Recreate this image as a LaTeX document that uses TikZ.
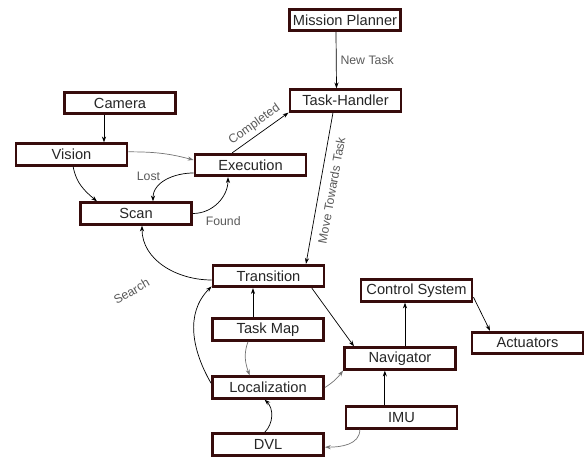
\documentclass[tikz,border=0pt]{standalone}
\usepackage{fontspec}
\setmainfont{Liberation Sans}
\usetikzlibrary{arrows.meta, positioning}
\definecolor{boxedge}{RGB}{55,12,12}

\begin{document}
\begin{tikzpicture}[x=0.03cm, y=0.03cm,
    block/.style={draw=boxedge, line width=2.5pt, fill=white, minimum width=3.33cm, minimum height=0.64cm, inner sep=0pt, font=\fontsize{12.5}{14}\selectfont, text=black!85},
    link/.style={-{Stealth[length=5pt, width=3.5pt]}, line width=0.6pt},
    soft/.style={link, draw=black!55},
    tag/.style={font=\fontsize{10.5}{12}\selectfont, text=black!65}]
\useasboundingbox (0,0) rectangle (584,457);

\node[block] (planner) at (345,437) {Mission Planner};
\node[block] (handler) at (345.5,356.5) {Task-Handler};
\node[block] (camera) at (120,354) {Camera};
\node[block] (vision) at (71.5,302.5) {Vision};
\node[block] (exec) at (250.5,292) {Execution};
\node[block] (scan) at (136,243.5) {Scan};
\node[block] (trans) at (268.5,181) {Transition};
\node[block] (taskmap) at (268,127.5) {Task Map};
\node[block] (local) at (268,69.5) {Localization};
\node[block] (dvl) at (268,12.5) {DVL};
\node[block] (control) at (416.5,166.5) {Control System};
\node[block] (actuators) at (527.5,114) {Actuators};
\node[block] (nav) at (400,98.5) {Navigator};
\node[block] (imu) at (401.5,39.5) {IMU};

\draw[link] ([xshift=-0.27cm]planner.south) -- node[tag, midway, right] {New Task} ([xshift=-0.27cm]handler.north);
\draw[link] ([xshift=-0.48cm]camera.south) -- ([xshift=-0.48cm]camera.south |- vision.north);
\draw[link] ([xshift=-0.55cm]exec.north) -- node[tag, midway, above, sloped] {Completed} (handler.south west);
\draw[soft] ([yshift=0.08cm]vision.east) to[out=0, in=165] ([yshift=0.15cm]exec.west);
\draw[link] ([xshift=0.05cm]vision.south) to[out=-80, in=140] ([xshift=-1.17cm]scan.north);
\draw[link] ([yshift=-0.24cm]exec.west) to[out=180, in=90] node[tag, pos=0.5, left, xshift=-0.05cm, yshift=0.1cm] {Lost} ([xshift=0.51cm]scan.north);
\draw[link] (scan.east) to[out=0, in=-90] node[tag, pos=0.15, below right] {Found} ([xshift=-0.675cm]exec.south);
\draw[link] ([yshift=-0.12cm]trans.west) to[out=180, in=-90] node[tag, pos=0.5, xshift=-0.97cm, yshift=-0.77cm, rotate=30] {Search} ([xshift=0.18cm]scan.south);
\draw[link] ([xshift=-0.375cm]handler.south) -- node[tag, midway, below=3pt, sloped] {Move Towards Task} ([xshift=1.125cm]trans.north);
\draw[link] ([xshift=1.3cm]trans.south) -- ([xshift=-1.38cm]nav.north);
\draw[link] ([xshift=-0.45cm]taskmap.north) -- ([xshift=-0.45cm]taskmap.north |- trans.south);
\draw[soft] ([xshift=-0.6cm]taskmap.south) to[out=-110, in=110] ([xshift=-0.55cm]local.north);
\draw[link] ([yshift=0.13cm]local.west) to[out=120, in=-135] ([yshift=0.05cm]trans.south west);
\draw[soft] (local.east) to[bend right=10] (nav.south west);
\draw[link] ([xshift=-0.1cm]dvl.north) to[out=45, in=-45] ([xshift=-0.1cm]local.south);
\draw[soft] ([xshift=-1.25cm]imu.south) to[out=-90, in=0] ([yshift=-0.08cm]dvl.east);
\draw[link] ([xshift=-0.5cm]imu.north) -- ([xshift=-0.5cm]imu.north |- nav.south);
\draw[link] ([xshift=0.15cm]nav.north) -- ([xshift=0.15cm]nav.north |- control.south);
\draw[link] ([yshift=-0.2cm]control.east) -- ([xshift=-1.125cm]actuators.north);

\end{tikzpicture}
\end{document}
